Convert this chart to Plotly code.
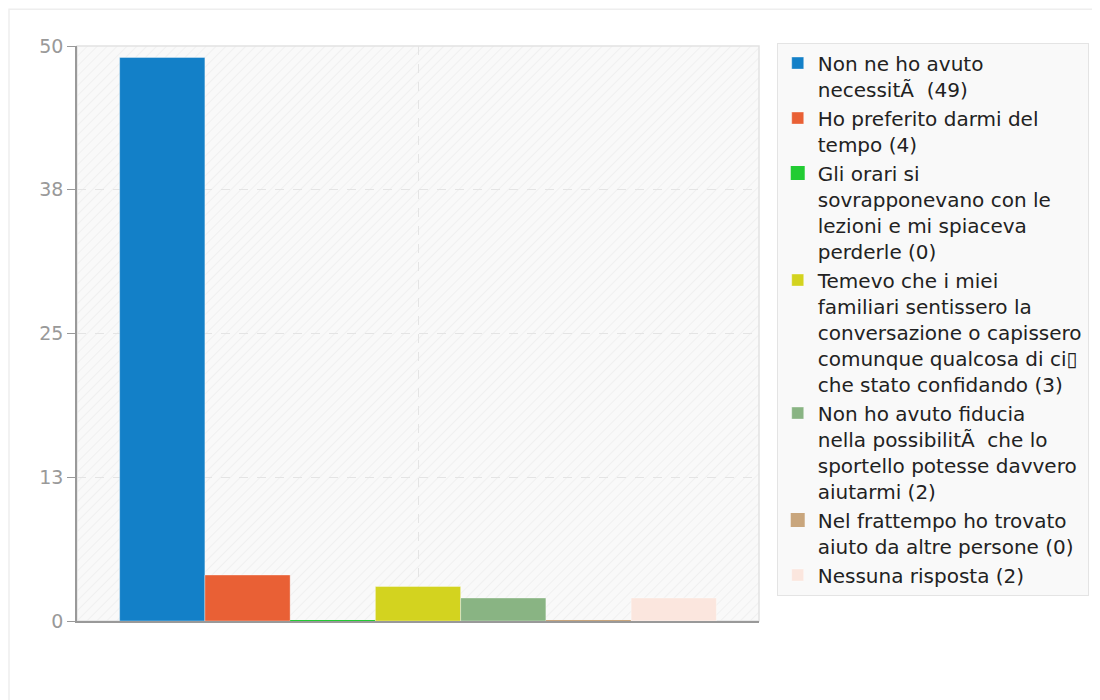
import plotly.graph_objects as go

# risposte alla domanda (testo come esportato, con caratteri rovinati)
labels = [
    "Non ne ho avuto<br>necessitÃ\u00a0 (49)",
    "Ho preferito darmi del<br>tempo (4)",
    "Gli orari si<br>sovrapponevano con le<br>lezioni e mi spiaceva<br>perderle (0)",
    "Temevo che i miei<br>familiari sentissero la<br>conversazione o capissero<br>comunque qualcosa di ci\u25af<br>che stato confidando (3)",
    "Non ho avuto fiducia<br>nella possibilitÃ\u00a0 che lo<br>sportello potesse davvero<br>aiutarmi (2)",
    "Nel frattempo ho trovato<br>aiuto da altre persone (0)",
    "Nessuna risposta (2)",
]
values = [49, 4, 0, 3, 2, 0, 2]
colors = ["#1380c8", "#e96035", "#22cc33", "#d3d31f", "#89b483", "#c9a67d", "#fbe6de"]
tick_vals = [0, 12.5, 25, 37.5, 50]
tick_text = ["0", "13", "25", "38", "50"]

fig = go.Figure()
for name, v, c in zip(labels, values, colors):
    fig.add_trace(go.Bar(
        x=[""], y=[v], name=name,
        marker=dict(color=c, line=dict(color=c if v == 0 else "rgba(255,255,255,0.35)", width=2 if v == 0 else 1)),
        hoverinfo="y+name",
    ))

# sfondo tratteggiato dell'area del grafico
hatch = (
    "data:image/svg+xml;utf8,"
    "<svg xmlns='http://www.w3.org/2000/svg' width='682' height='575'>"
    "<defs><pattern id='p' width='7' height='7' patternUnits='userSpaceOnUse' patternTransform='rotate(45)'>"
    "<rect width='7' height='7' fill='%23f9f9f9'/><line x1='0' y1='0' x2='0' y2='7' stroke='%23ededed' stroke-width='1.5'/>"
    "</pattern></defs><rect width='682' height='575' fill='url(%23p)'/></svg>"
)

fig.update_layout(
    width=1100, height=700,
    margin=dict(l=69, r=349, t=38, b=87),
    paper_bgcolor="white",
    plot_bgcolor="rgba(0,0,0,0)",
    barmode="group",
    bargap=0.125,
    bargroupgap=0,
    font=dict(family="DejaVu Sans", size=20, color="#222"),
    showlegend=True,
    legend=dict(
        x=1.026, y=1.006, xanchor="left", yanchor="top",
        bgcolor="#f9f9f9", bordercolor="#e4e4e4", borderwidth=1,
        font=dict(size=20, color="#222"),
        valign="top", tracegroupgap=0, itemwidth=30, maxheight=680,
    ),
    images=[dict(source=hatch, xref="paper", yref="paper", x=0, y=1, sizex=1, sizey=1,
                 sizing="stretch", layer="below")],
    shapes=[
        dict(type="rect", xref="paper", yref="paper", x0=0, x1=1, y0=0, y1=1,
             line=dict(color="#e2e2e2", width=1.5), layer="below"),
        dict(type="rect", xref="paper", yref="paper", x0=-0.0997, x1=1.6, y0=-0.3, y1=1.064,
             line=dict(color="#eeeeee", width=1.5), layer="below"),
    ],
)
fig.update_xaxes(
    showticklabels=False, showgrid=True, gridcolor="#e4e4e4", griddash="dash",
    showline=True, linecolor="#999", linewidth=1.5, zeroline=False,
)
fig.update_yaxes(
    range=[0, 50], tickvals=tick_vals, ticktext=tick_text,
    showgrid=True, gridcolor="#e4e4e4", griddash="dash", zeroline=False,
    showline=True, linecolor="#999", linewidth=1.5,
    ticks="outside", ticklen=8, tickcolor="#999",
    tickfont=dict(size=19, color="#999"),
)

fig.write_html("out.html")
